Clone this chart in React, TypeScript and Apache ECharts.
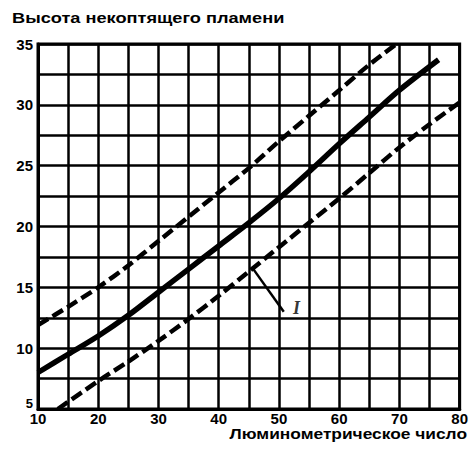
import React, { useEffect, useRef } from 'react';
import * as echarts from 'echarts';

const titleText = 'Высота некоптящего пламени';
const xAxisTitle = 'Люминометрическое число';
const curveLabel = 'I';

const xMin = 10;
const xMax = 80;
const xStep = 5;
const yMin = 5;
const yMax = 35;
const yStep = 2.5;

const middleCurve: number[][] = [
  [10, 8.0], [15, 9.5], [20, 11.0], [25, 12.7], [30, 14.6], [35, 16.5], [40, 18.4],
  [45, 20.3], [50, 22.3], [55, 24.5], [60, 26.8], [65, 29.0], [70, 31.2], [76.5, 33.7],
];
const upperCurve: number[][] = [
  [10, 11.9], [15, 13.4], [20, 15.0], [25, 16.8], [30, 18.8], [35, 20.8], [40, 22.8],
  [45, 24.8], [50, 27.0], [55, 29.1], [60, 31.2], [65, 33.3], [69.5, 35.0],
];
const lowerCurve: number[][] = [
  [13.3, 5.0], [20, 7.3], [25, 8.9], [30, 10.6], [35, 12.4], [40, 14.3], [45, 16.3],
  [50, 18.3], [55, 20.3], [60, 22.3], [65, 24.4], [70, 26.5], [75, 28.4], [80, 30.2],
];
const leader: number[][] = [[45.6, 16.6], [50.8, 13.0]];
const labelPoint: number[][] = [[52.9, 13.3]];

export default function App() {
  const ref = useRef<HTMLDivElement>(null);
  useEffect(() => {
    const chart = echarts.init(ref.current!, null, { renderer: 'svg' });
    const font = 'Liberation Sans, Arial, sans-serif';
    chart.setOption({
      animation: false,
      backgroundColor: '#fff',
      grid: {
        left: 38, right: 10, top: 44, bottom: 44,
        show: true, borderColor: '#000', borderWidth: 3,
      },
      xAxis: {
        type: 'value', min: xMin, max: xMax, interval: xStep,
        axisLine: { show: true, lineStyle: { color: '#000', width: 3 } },
        axisTick: { show: false },
        splitLine: { show: true, lineStyle: { color: '#000', width: 2.5 } },
        axisLabel: {
          color: '#000', fontFamily: font, fontWeight: 'bold', fontSize: 15, margin: 2,
          formatter: (v: number) => (v % 10 === 0 ? String(v) : ''),
        },
      },
      yAxis: {
        type: 'value', min: yMin, max: yMax, interval: yStep,
        axisLine: { show: true, lineStyle: { color: '#000', width: 3 } },
        axisTick: { show: false },
        splitLine: { show: true, lineStyle: { color: '#000', width: 2.5 } },
        axisLabel: {
          color: '#000', fontFamily: font, fontWeight: 'bold', fontSize: 15, margin: 5,
          formatter: (v: number) => (v === yMin ? '{low|5}' : v % 5 === 0 ? String(v) : ''),
          rich: {
            low: {
              color: '#000', fontFamily: font, fontWeight: 'bold', fontSize: 13,
              padding: [0, 0, 12, 0],
            },
          },
        },
      },
      graphic: [
        {
          type: 'text', left: 12, top: 11, scaleX: 1.3,
          style: { text: titleText, fill: '#000', font: `bold 14px ${font}` },
        },
        {
          type: 'text', x: 467, y: 427, scaleX: 1.24,
          style: { text: xAxisTitle, fill: '#000', font: `bold 14px ${font}`, textAlign: 'right' },
        },
      ],
      series: [
        {
          type: 'line', data: middleCurve, smooth: 0.3, symbol: 'none',
          lineStyle: { color: '#000', width: 5.5 }, z: 5,
        },
        {
          type: 'line', data: upperCurve, smooth: 0.3, symbol: 'none',
          lineStyle: { color: '#000', width: 4.5, type: [12, 5] }, z: 5,
        },
        {
          type: 'line', data: lowerCurve, smooth: 0.3, symbol: 'none',
          lineStyle: { color: '#000', width: 4.5, type: [12, 5] }, z: 5,
        },
        {
          type: 'line', data: leader, symbol: 'none',
          lineStyle: { color: '#000', width: 2.5 }, z: 5,
        },
        {
          type: 'scatter', data: labelPoint, symbolSize: 0, z: 6,
          label: {
            show: true, position: 'inside', formatter: curveLabel, color: '#000',
            fontFamily: 'Liberation Serif, serif', fontStyle: 'italic', fontWeight: 'bold', fontSize: 18,
          },
        },
      ],
    });
    return () => chart.dispose();
  }, []);
  return <div ref={ref} style={{ position: 'fixed', left: 0, top: 0, width: 471, height: 453 }} />;
}
